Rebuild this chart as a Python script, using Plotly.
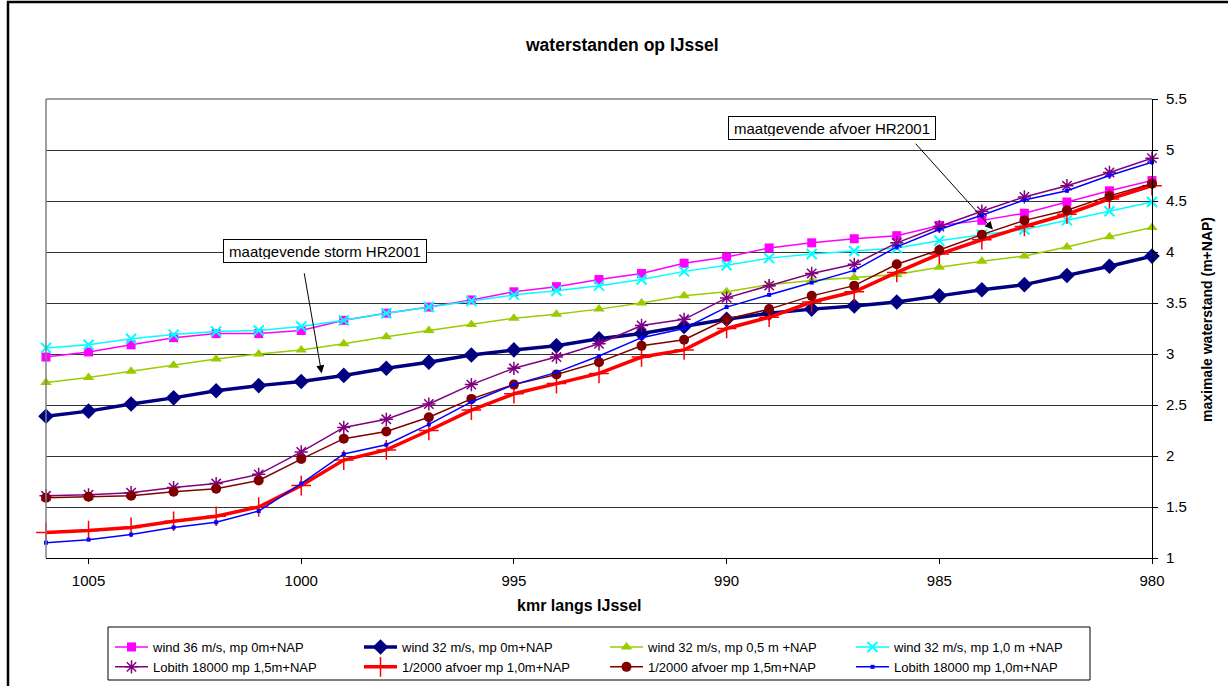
import plotly.graph_objects as go

# ---------------- data ----------------
km = [1006, 1005, 1004, 1003, 1002, 1001, 1000, 999, 998, 997, 996, 995, 994, 993,
      992, 991, 990, 989, 988, 987, 986, 985, 984, 983, 982, 981, 980]

wind36_mp0 = [2.97, 3.02, 3.09, 3.16, 3.20, 3.20, 3.23, 3.33, 3.40, 3.46, 3.53, 3.61, 3.66, 3.73,
              3.79, 3.89, 3.95, 4.04, 4.09, 4.13, 4.16, 4.26, 4.31, 4.38, 4.49, 4.60, 4.70]
wind32_mp0 = [2.39, 2.44, 2.51, 2.57, 2.64, 2.69, 2.73, 2.79, 2.86, 2.92, 2.99, 3.04, 3.08, 3.15,
              3.20, 3.27, 3.34, 3.40, 3.44, 3.47, 3.51, 3.57, 3.63, 3.68, 3.77, 3.86, 3.96]
wind32_mp05 = [2.72, 2.77, 2.83, 2.89, 2.95, 3.00, 3.04, 3.10, 3.17, 3.23, 3.29, 3.35, 3.39, 3.44,
               3.50, 3.57, 3.61, 3.68, 3.72, 3.75, 3.78, 3.85, 3.91, 3.96, 4.05, 4.15, 4.24]
wind32_mp10 = [3.06, 3.09, 3.15, 3.19, 3.22, 3.23, 3.27, 3.33, 3.40, 3.46, 3.52, 3.58, 3.62, 3.67,
               3.73, 3.81, 3.87, 3.94, 3.98, 4.01, 4.04, 4.11, 4.17, 4.22, 4.31, 4.40, 4.49]
lobith_mp15 = [1.61, 1.62, 1.64, 1.69, 1.73, 1.82, 2.04, 2.28, 2.36, 2.51, 2.70, 2.86, 2.97, 3.10,
               3.28, 3.34, 3.55, 3.67, 3.79, 3.88, 4.09, 4.25, 4.40, 4.54, 4.65, 4.78, 4.92]
afvoer_mp10 = [1.25, 1.27, 1.30, 1.36, 1.41, 1.50, 1.71, 1.96, 2.06, 2.25, 2.45, 2.61, 2.71, 2.81,
               2.97, 3.04, 3.25, 3.36, 3.51, 3.61, 3.80, 3.98, 4.12, 4.25, 4.37, 4.52, 4.65]
afvoer_mp15 = [1.59, 1.60, 1.61, 1.65, 1.68, 1.76, 1.97, 2.17, 2.24, 2.38, 2.56, 2.70, 2.80, 2.92,
               3.08, 3.14, 3.34, 3.44, 3.57, 3.67, 3.88, 4.02, 4.17, 4.31, 4.41, 4.55, 4.67]
lobith_mp10 = [1.15, 1.18, 1.23, 1.30, 1.35, 1.46, 1.73, 2.02, 2.11, 2.31, 2.53, 2.70, 2.82, 2.98,
               3.16, 3.25, 3.46, 3.58, 3.70, 3.82, 4.05, 4.22, 4.36, 4.51, 4.60, 4.75, 4.88]

x_ticks = [1005, 1000, 995, 990, 985, 980]
y_ticks = [1, 1.5, 2, 2.5, 3, 3.5, 4, 4.5, 5, 5.5]

FONT = "Arial, Liberation Sans, sans-serif"

# pixel geometry helpers (figure 1228x686, plot area 46..1152 x 99..558)
W, H = 1228, 686
L, R, T, B = 46, 1152, 99, 558
PW, PH = R - L, B - T


def px(xp):
    return (xp - L) / PW


def py(yp):
    return (B - yp) / PH


series = [
    ("wind 36 m/s, mp 0m+NAP", wind36_mp0, "#FF00FF", 1.5,
     dict(symbol="square", size=9, color="#FF00FF"), "legend"),
    ("wind 32 m/s, mp 0m+NAP", wind32_mp0, "#000080", 3.5,
     dict(symbol="diamond", size=12, color="#000080"), "legend2"),
    ("wind 32 m/s, mp 0,5 m +NAP", wind32_mp05, "#99CC00", 1.5,
     dict(symbol="triangle-up", size=10, color="#99CC00"), "legend3"),
    ("wind 32 m/s, mp 1,0 m +NAP", wind32_mp10, "#00FFFF", 1.5,
     dict(symbol="x-thin-open", size=10, color="#00FFFF", line=dict(width=2, color="#00FFFF")), "legend4"),
    ("Lobith 18000 mp 1,5m+NAP", lobith_mp15, "#800080", 1.5,
     dict(symbol="asterisk-open", size=11, color="#800080", line=dict(width=1.5, color="#800080")), "legend"),
    ("1/2000 afvoer mp 1,0m+NAP", afvoer_mp10, "#FF0000", 3.5,
     dict(symbol="cross-thin-open", size=14, color="#FF0000", line=dict(width=1.5, color="#FF0000")), "legend2"),
    ("1/2000 afvoer mp 1,5m+NAP", afvoer_mp15, "#800000", 1.5,
     dict(symbol="circle", size=10, color="#800000"), "legend3"),
    ("Lobith 18000 mp 1,0m+NAP", lobith_mp10, "#0000FF", 1.5,
     dict(symbol="square", size=4, color="#0000FF"), "legend4"),
]

fig = go.Figure()
for name, vals, color, lw, marker, leg in series:
    fig.add_trace(go.Scatter(
        x=km, y=vals, name=name, mode="lines+markers",
        line=dict(color=color, width=lw), marker=marker, legend=leg,
        cliponaxis=False,
    ))

legend_common = dict(
    orientation="v", xanchor="left", yanchor="top",
    bgcolor="rgba(0,0,0,0)", borderwidth=0,
    font=dict(family=FONT, size=13, color="black"),
    itemwidth=33, tracegroupgap=0,
)
legend_y = py(632)
fig.update_layout(
    legend=dict(x=px(110), y=legend_y, **legend_common),
    legend2=dict(x=px(359), y=legend_y, **legend_common),
    legend3=dict(x=px(605), y=legend_y, **legend_common),
    legend4=dict(x=px(851), y=legend_y, **legend_common),
)

fig.update_layout(
    width=W, height=H, autosize=False,
    margin=dict(l=L, r=W - R, t=T, b=H - B, pad=0, autoexpand=False),
    paper_bgcolor="white", plot_bgcolor="white",
    font=dict(family=FONT, size=15, color="black"),
    showlegend=True,
    xaxis=dict(
        range=[1006, 980], tickvals=x_ticks, ticktext=[str(v) for v in x_ticks],
        showgrid=False, zeroline=False, showline=True, linecolor="black", linewidth=1,
        ticks="outside", ticklen=5, tickcolor="black",
        tickfont=dict(family=FONT, size=15), ticklabelstandoff=4,
    ),
    yaxis=dict(
        range=[1, 5.5], tickvals=y_ticks, ticktext=[f"{v:g}" for v in y_ticks],
        side="right", showgrid=True, gridcolor="#333333", gridwidth=1,
        zeroline=False, showline=True, linecolor="black", linewidth=1,
        ticks="outside", ticklen=5, tickcolor="black",
        tickfont=dict(family=FONT, size=15), ticklabelstandoff=5,
    ),
)

# plot-area frame (grey top/left), outer chart border, legend box
fig.add_shape(type="line", xref="paper", yref="paper", x0=0, x1=1, y0=1, y1=1,
              line=dict(color="#808080", width=1.5), layer="above")
fig.add_shape(type="line", xref="paper", yref="paper", x0=0, x1=0, y0=0, y1=1,
              line=dict(color="#808080", width=1.5), layer="above")
fig.add_shape(type="rect", xref="paper", yref="paper",
              x0=px(8), x1=px(1245), y0=py(705), y1=py(2),
              line=dict(color="black", width=2.5), fillcolor="rgba(0,0,0,0)", layer="above")
fig.add_shape(type="rect", xref="paper", yref="paper",
              x0=px(108), x1=px(1090), y0=py(680), y1=py(627),
              line=dict(color="black", width=1), fillcolor="rgba(0,0,0,0)", layer="above")

# titles
fig.add_annotation(text="<b>waterstanden op IJssel</b>", xref="paper", yref="paper",
                   x=px(622), y=py(45), showarrow=False, xanchor="center", yanchor="middle",
                   font=dict(family=FONT, size=17.5, color="black"))
fig.add_annotation(text="<b>kmr langs IJssel</b>", xref="paper", yref="paper",
                   x=px(579), y=py(605), showarrow=False, xanchor="center", yanchor="middle",
                   font=dict(family=FONT, size=16, color="black"))
fig.add_annotation(text="<b>maximale waterstand (m+NAP)</b>", xref="paper", yref="paper",
                   x=px(1207), y=py(320), showarrow=False, xanchor="center", yanchor="middle",
                   textangle=-90, font=dict(family=FONT, size=14, color="black"))

# callout boxes
fig.add_annotation(text="maatgevende storm HR2001", x=999.43, y=4.01, xref="x", yref="y",
                   showarrow=False, bgcolor="white", bordercolor="black", borderwidth=1,
                   borderpad=3, width=196, height=16,
                   font=dict(family=FONT, size=15, color="black"))
fig.add_annotation(text="maatgevende afvoer HR2001", x=987.53, y=5.22, xref="x", yref="y",
                   showarrow=False, bgcolor="white", bordercolor="black", borderwidth=1,
                   borderpad=3, width=200, height=16,
                   font=dict(family=FONT, size=15, color="black"))
# arrows
fig.add_annotation(text=" ", x=999.52, y=2.81, ax=999.97, ay=3.89, xref="x", yref="y",
                   axref="x", ayref="y", showarrow=True, arrowhead=2, arrowsize=1.6,
                   arrowwidth=1, arrowcolor="black", standoff=0, startstandoff=0)
fig.add_annotation(text=" ", x=983.74, y=4.22, ax=985.64, ay=5.10, xref="x", yref="y",
                   axref="x", ayref="y", showarrow=True, arrowhead=2, arrowsize=1.6,
                   arrowwidth=1, arrowcolor="black", standoff=0, startstandoff=0)

# remove the browser's default 8px page margin so the figure sits at (0, 0)
fig.write_html("out.html", config={"displayModeBar": False},
               post_script="document.body.style.margin='0';document.body.style.overflow='hidden';")
